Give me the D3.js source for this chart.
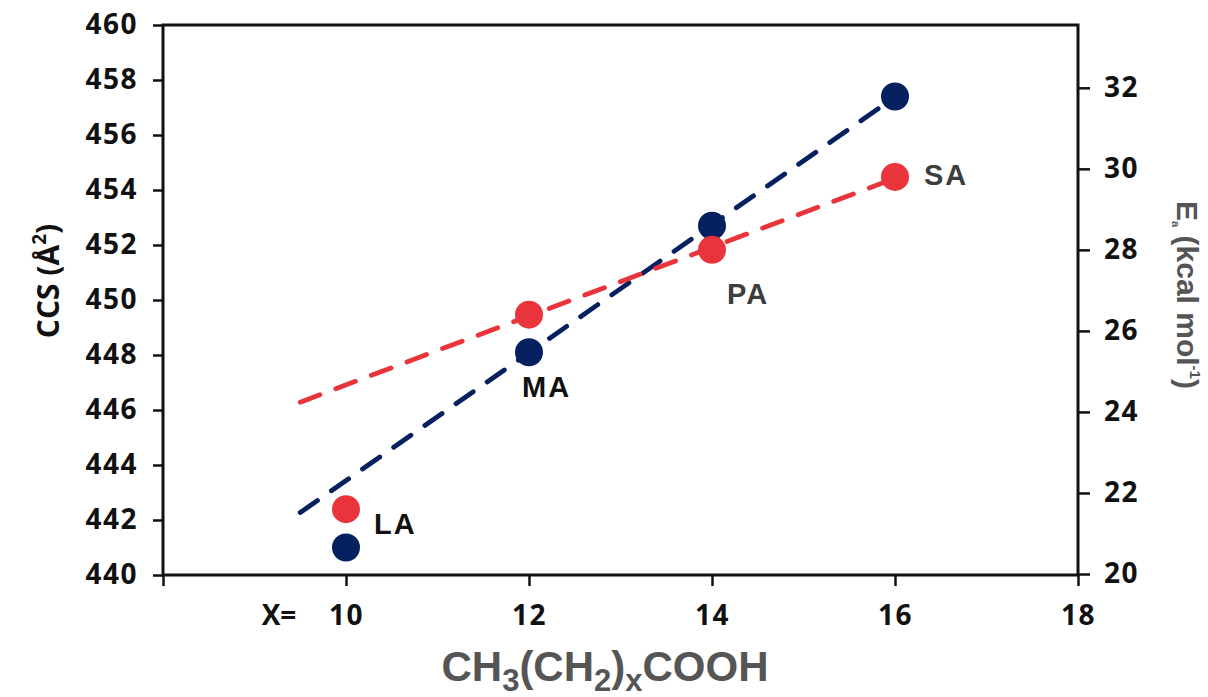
<!DOCTYPE html>
<html>
  <head>
    <meta charset="utf-8" />
    <script src="https://d3js.org/d3.v7.min.js"></script>
    <style>
        body {margin: 0; background: white;}
        .tick text {font-family: "Open Sans", sans-serif; font-weight: bold; font-size: 28px; fill: #111; letter-spacing: 1.5px;}
        .tick line {stroke: #111; stroke-width: 2.5;}
        .domain {display: none;}
    </style>
  </head>
  <body>

    <svg id="viz"></svg>

    <script>

        var width = 1208
        var height = 697

        // data
        var acids = ["LA", "MA", "PA", "SA"];
        var chainX = [10, 12, 14, 16];
        var ccs = [441.0, 448.1, 452.7, 457.4];   // left axis, blue
        var ea = [21.6, 26.4, 28.0, 29.8];        // right axis, red

        var xTicks = [8, 10, 12, 14, 16, 18];
        var ccsTicks = [440, 442, 444, 446, 448, 450, 452, 454, 456, 458, 460];
        var eaTicks = [20, 22, 24, 26, 28, 30, 32];

        // trend lines only use MA, PA, SA and get drawn back to x = 9.5
        var fitIdx = [1, 2, 3];
        var fitRange = [9.5, 16];

        var margin = {top: 25, right: 130, bottom: 122, left: 163};

        var blue = "#04205e";
        var red = "#ea343c";

        var svg = d3.select("#viz")
            .attr("width", width)
            .attr("height", height);

        var x = d3.scaleLinear()
            .domain([8, 18])
            .range([margin.left, width - margin.right]);

        var yL = d3.scaleLinear()
            .domain([440, 460])
            .range([height - margin.bottom, margin.top]);

        var yR = d3.scaleLinear()
            .domain([20, 33.55])
            .range([height - margin.bottom - 1, margin.top]);

        // axes
        svg.append("g")
            .attr("transform", "translate(" + margin.left + ",0)")
            .call(d3.axisLeft(yL).tickValues(ccsTicks).tickSize(10).tickPadding(15).tickSizeOuter(0));

        svg.append("g")
            .attr("transform", "translate(" + (width - margin.right) + ",0)")
            .call(d3.axisRight(yR).tickValues(eaTicks).tickSize(12).tickPadding(14).tickSizeOuter(0));

        svg.append("g")
            .attr("transform", "translate(0," + (height - margin.bottom) + ")")
            .call(d3.axisBottom(x).tickValues(xTicks).tickSize(11).tickPadding(19).tickSizeOuter(0)
                .tickFormat(function(d) { return d === 8 ? "" : d; }));

        // the box round the plot
        svg.append("rect")
            .attr("x", margin.left)
            .attr("y", margin.top)
            .attr("width", width - margin.left - margin.right)
            .attr("height", height - margin.top - margin.bottom)
            .attr("fill", "none")
            .attr("stroke", "#111")
            .attr("stroke-width", 3);

        svg.append("text")
            .attr("x", 279)
            .attr("y", height - margin.bottom + 30)
            .attr("dy", "0.71em")
            .attr("text-anchor", "middle")
            .style("font-family", "Open Sans, sans-serif")
            .style("font-weight", "bold")
            .style("font-size", "28px")
            .attr("fill", "#111")
            .text("X=");

        // least squares fit on the chosen points
        function fit(xs, ys) {
            var mx = d3.mean(fitIdx, function(i) { return xs[i]; });
            var my = d3.mean(fitIdx, function(i) { return ys[i]; });
            var sxy = d3.sum(fitIdx, function(i) { return (xs[i] - mx) * (ys[i] - my); });
            var sxx = d3.sum(fitIdx, function(i) { return (xs[i] - mx) * (xs[i] - mx); });
            var b = sxy / sxx;
            return fitRange.map(function(v) { return [v, my + b * (v - mx)]; });
        }

        var series = [
            {vals: ccs, y: yL, color: blue},
            {vals: ea, y: yR, color: red}
        ];

        series.forEach(function(s) {
            var line = d3.line()
                .x(function(d) { return x(d[0]); })
                .y(function(d) { return s.y(d[1]); });
            svg.append("path")
                .attr("d", line(fit(chainX, s.vals)))
                .attr("fill", "none")
                .attr("stroke", s.color)
                .attr("stroke-width", 4.8)
                .attr("stroke-linecap", "round")
                .attr("stroke-dasharray", "21,17");
        });

        series.forEach(function(s) {
            svg.append("g").selectAll("circle")
                .data(chainX)
                .enter().append("circle")
                .attr("cx", function(d) { return x(d); })
                .attr("cy", function(d, i) { return s.y(s.vals[i]); })
                .attr("r", 14)
                .attr("fill", s.color);
        });

        // acid names, nudged off the points
        var labelOff = [
            {dx: 28, dy: 25, ref: ea, y: yR, fill: "#111"},
            {dx: -7, dy: 45, ref: ccs, y: yL, fill: "#111"},
            {dx: 15, dy: 54, ref: ea, y: yR, fill: "#3d3d3d"},
            {dx: 29, dy: 8, ref: ea, y: yR, fill: "#3d3d3d"}
        ];

        svg.append("g").selectAll("text")
            .data(acids)
            .enter().append("text")
            .attr("x", function(d, i) { return x(chainX[i]) + labelOff[i].dx; })
            .attr("y", function(d, i) { return labelOff[i].y(labelOff[i].ref[i]) + labelOff[i].dy; })
            .attr("fill", function(d, i) { return labelOff[i].fill; })
            .style("font-family", "Liberation Sans, Arial, sans-serif")
            .style("font-weight", "bold")
            .style("font-size", "29px")
            .style("letter-spacing", "2px")
            .text(function(d) { return d; });

        // axis titles
        var ccsTitle = svg.append("text")
            .attr("transform", "translate(59,281) rotate(-90)")
            .attr("text-anchor", "middle")
            .attr("fill", "#111")
            .style("font-family", "Open Sans, sans-serif")
            .style("font-weight", "bold")
            .style("font-size", "30px");
        ccsTitle.append("tspan").text("CCS (Å");
        ccsTitle.append("tspan").attr("dy", "-0.7em").style("font-size", "19px").text("2");
        ccsTitle.append("tspan").attr("dy", "0.42em").text(")");

        var eaTitle = svg.append("text")
            .attr("transform", "translate(1177,295) rotate(90)")
            .attr("text-anchor", "middle")
            .attr("fill", "#555")
            .style("font-family", "Liberation Sans, Arial, sans-serif")
            .style("font-weight", "bold")
            .style("font-size", "30px");
        eaTitle.append("tspan").text("E");
        eaTitle.append("tspan").attr("dy", 5).style("font-size", "11px").text("a");
        eaTitle.append("tspan").attr("dy", -5).text(" (kcal mol");
        eaTitle.append("tspan").attr("dy", -13).style("font-size", "15px").text("-1");
        eaTitle.append("tspan").attr("dy", 13).text(")");

        var xTitle = svg.append("text")
            .attr("x", 605)
            .attr("y", 681)
            .attr("text-anchor", "middle")
            .attr("fill", "#555")
            .style("font-family", "Liberation Sans, Arial, sans-serif")
            .style("font-weight", "bold")
            .style("font-size", "42px");
        xTitle.append("tspan").text("CH");
        xTitle.append("tspan").attr("dy", 10).style("font-size", "31px").text("3");
        xTitle.append("tspan").attr("dy", -10).text("(CH");
        xTitle.append("tspan").attr("dy", 10).style("font-size", "31px").text("2");
        xTitle.append("tspan").attr("dy", -10).text(")");
        xTitle.append("tspan").attr("dy", 10).style("font-size", "31px").text("x");
        xTitle.append("tspan").attr("dy", -10).text("COOH");

    </script>

  </body>
</html>
